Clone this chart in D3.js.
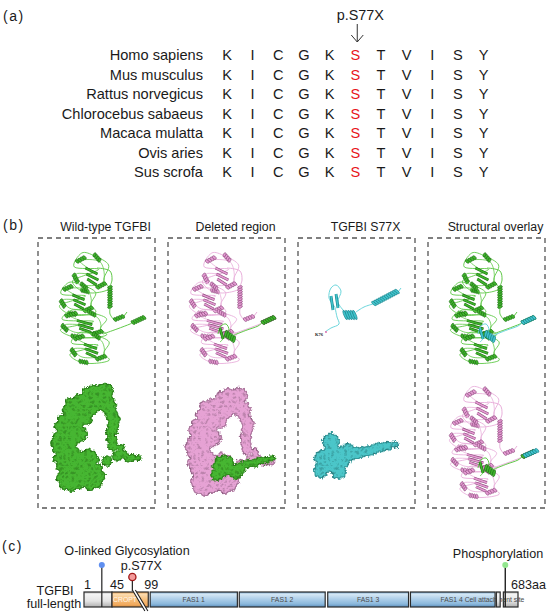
<!DOCTYPE html>
<html>
<head>
<meta charset="utf-8">
<script src="https://cdn.jsdelivr.net/npm/d3@7"></script>
<style>
body{margin:0;background:#fff}
svg{display:block;font-family:"Liberation Sans",Arial,sans-serif}
</style>
</head>
<body>
<svg id="fig" width="550" height="616"></svg>
<script>
// ---- panel (a) data
var species = ["Homo sapiens","Mus musculus","Rattus norvegicus","Chlorocebus sabaeus","Macaca mulatta","Ovis aries","Sus scrofa"];
var residues = ["K","I","C","G","K","S","T","V","I","S","Y"];
var mutIndex = 5;
var mutLabel = "p.S77X";

// ---- panel (b) titles
var panelTitles = ["Wild-type TGFBI","Deleted region","TGFBI S77X","Structural overlay"];

// ---- panel (c) data (amino-acid positions)
var domainNames = ["","CROPT","FAS1 1","FAS1 2","FAS1 3","FAS1 4 Cell attachment site","",""];
var domainStart = [1,45,105,245,384,514,649,660];
var domainEnd   = [45,102,242,380,511,647,655,683];
var domainKind  = ["gray","orange","blue","blue","blue","blue","gray","gray"];
var posTicks = [1,45,99];
var protLength = 683;
var siteNames = ["O-linked Glycosylation","p.S77X","Phosphorylation"];
var sitePos = [29,77,663];

var svg = d3.select("#fig");
var ink = "#1a1a1a";
var defs = svg.append("defs");

// ================= (a) alignment
var colX = d3.scalePoint().domain(d3.range(residues.length)).range([227, 483.5]);
var rowY = d3.scalePoint().domain(species).range([55, 172]);

svg.append("text").attr("x",3).attr("y",21).attr("font-size",14).attr("letter-spacing",1.5).attr("fill",ink).text("(a)");

svg.append("g").selectAll("text").data(species).enter().append("text")
  .attr("x",203).attr("y",function(d){return rowY(d)+5;})
  .attr("text-anchor","end").attr("font-size",14.6).attr("fill",ink)
  .text(function(d){return d;});

species.forEach(function(sp){
  svg.append("g").selectAll("text").data(residues).enter().append("text")
    .attr("x",function(d,i){return colX(i);})
    .attr("y",rowY(sp)+5)
    .attr("text-anchor","middle").attr("font-size",14.6)
    .attr("fill",function(d,i){return i==mutIndex ? "#e8141b" : ink;})
    .text(function(d){return d;});
});

var ax = colX(mutIndex)+2;
svg.append("text").attr("x",ax+3).attr("y",20).attr("text-anchor","middle")
  .attr("font-size",14.4).attr("fill",ink).text(mutLabel);
svg.append("path").attr("d","M"+ax+",24V42M"+(ax-6)+",35L"+ax+",42L"+(ax+6)+",35")
  .attr("fill","none").attr("stroke","#333").attr("stroke-width",1);

// ================= (b) structures
svg.append("text").attr("x",3).attr("y",230).attr("font-size",14).attr("letter-spacing",1.5).attr("fill",ink).text("(b)");

var boxX = d3.scaleBand().domain(panelTitles).range([38,545]).paddingInner(0.1);
var boxTop = 238, boxBottom = 508;

svg.append("g").selectAll("text").data(panelTitles).enter().append("text")
  .attr("x",function(d){return boxX(d)+boxX.bandwidth()/2+9;})
  .attr("y",230.5).attr("text-anchor","middle").attr("font-size",12.3).attr("fill",ink)
  .text(function(d){return d;});

svg.append("g").selectAll("rect").data(panelTitles).enter().append("rect")
  .attr("x",function(d){return boxX(d);}).attr("y",boxTop)
  .attr("width",boxX.bandwidth()).attr("height",boxBottom-boxTop)
  .attr("fill","none").attr("stroke","#555").attr("stroke-width",1.3)
  .attr("stroke-dasharray","5,4");

var green = {fill:"#3fb52c", dark:"#1d6e12", light:"#5fc947", surf:"#46b632"};
var pink  = {fill:"#e49bd2", dark:"#8e4a7e", light:"#e9afdb", surf:"#e6a2d4"};
var cyan  = {fill:"#40c4cc", dark:"#17808a", light:"#6bd6dc", surf:"#4cc6c9"};

var cartoonDomains = [[53,35,37,40],[40,61,37,33],[46,86,47,28],[52,110,40,31]];
var cartoonHelices = [[72,48,72,70,5],[76,82,86,78,4.5],[94,85,107,79,5]];
var cartoonLoops = [[[59,30],[72,33],[74,42],[72,48]],[[72,70],[72,76],[76,82]],[[86,78],[89,74]],[[65,96],[79,91],[92,86],[94,85]]];
// S77X part inside the template
var s77xLoops = [[[50,96],[53,88],[58,86],[61,92],[56,100],[52,104]],[[66,97],[79,92],[90,88],[94,85]]];
var s77xHelices = [[57,95,67,102,7],[94,85,107,79,5]];
// truncated protein cartoon (panel 3)
var truncLoops = [[[37,69],[31,60],[33,50],[38,47],[43,53],[40,64],[46,73]],[[37,69],[39,79],[41,86],[33,90],[27,94]],[[58,74],[66,69],[75,66]],[[100,54],[103,50]]];
var truncHelices = [[46,77,58,77,10],[75,66,100,53,6]];
var truncSheets = [[33,58,35,72],[38,56,40,70]];

// domain sub-pattern (unit coordinates)
var domLoop = [[-0.9,-0.3],[-0.5,-1],[0.2,-0.85],[0.95,-0.4],[0.7,0.3],[0.95,0.8],[0.1,1],[-0.6,0.85],[-1,0.4],[-0.3,0.1],[0.4,-0.2]];
var domLoop2 = [[-0.6,-0.6],[0.5,-0.55],[0.65,0.45],[-0.35,0.6],[-0.8,0.05],[0.1,0]];
var domHelix = [[-0.8,-0.55,-0.3,-0.8],[0.15,-0.95,0.5,-0.6],[-0.95,0.05,-0.7,0.5],[0.3,0.75,0.8,0.5],[-0.55,0.85,-0.1,0.95]];
var domSheet = [[-0.3,-0.25,0.35,0.05],[-0.25,0.05,0.4,0.35],[-0.2,0.3,0.3,0.6]];

var smoothLine = d3.line().curve(d3.curveCatmullRom.alpha(0.5));
var closedLine = d3.line().curve(d3.curveCardinalClosed);

function helix(g,x0,y0,x1,y1,w,pal){
  var L = Math.hypot(x1-x0,y1-y0), ang = Math.atan2(y1-y0,x1-x0)*180/Math.PI;
  var n = Math.max(2,Math.round(L/2.4)), step = L/n;
  var h = g.append("g").attr("transform","translate("+x0+","+y0+")rotate("+ang+")");
  h.selectAll("ellipse").data(d3.range(n)).enter().append("ellipse")
    .attr("cx",function(i){return (i+0.5)*step;}).attr("cy",0)
    .attr("rx",step*0.55).attr("ry",w/2)
    .attr("transform",function(i){return "rotate(-22,"+((i+0.5)*step)+",0)";})
    .attr("fill",pal.fill).attr("stroke",pal.dark).attr("stroke-width",0.6);
}
function strand(g,x0,y0,x1,y1,pal){
  g.append("line").attr("x1",x0).attr("y1",y0).attr("x2",x1).attr("y2",y1)
    .attr("stroke",pal.dark).attr("stroke-width",2.8);
  g.append("line").attr("x1",x0).attr("y1",y0).attr("x2",x1).attr("y2",y1)
    .attr("stroke",pal.fill).attr("stroke-width",1.6);
}
function drawLoops(g,list,pal){
  list.forEach(function(pts){
    g.append("path").attr("d",smoothLine(pts)).attr("fill","none")
      .attr("stroke",pal.light).attr("stroke-width",1);
  });
}
function drawDomains(g,doms,pal){
  doms.forEach(function(d){
    var sx = d[2]/2, sy = d[3]/2;
    var P = function(p){return [d[0]+p[0]*sx, d[1]+p[1]*sy];};
    g.append("path").attr("d",closedLine(domLoop.map(P))).attr("fill","none").attr("stroke",pal.light).attr("stroke-width",0.9);
    g.append("path").attr("d",closedLine(domLoop2.map(P))).attr("fill","none").attr("stroke",pal.light).attr("stroke-width",0.8);
    domSheet.forEach(function(s){var a=P([s[0],s[1]]),b=P([s[2],s[3]]);strand(g,a[0],a[1],b[0],b[1],pal);});
    domHelix.forEach(function(s){var a=P([s[0],s[1]]),b=P([s[2],s[3]]);helix(g,a[0],a[1],b[0],b[1],4.6,pal);});
  });
}
function drawCartoon(g,pal){
  drawDomains(g,cartoonDomains,pal);
  drawLoops(g,cartoonLoops,pal);
  cartoonHelices.forEach(function(h){helix(g,h[0],h[1],h[2],h[3],h[4],pal);});
}
function drawS77X(g,pal){
  drawLoops(g,s77xLoops,pal);
  strand(g,52,90,55,101,pal);
  s77xHelices.forEach(function(h){helix(g,h[0],h[1],h[2],h[3],h[4],pal);});
}

// surfaces (box-relative circles)
var surfaceBlobs = [[55,160,13],[40,172,15],[29,187,12],[66,153,8],[69,166,8],[72,174,6],[75,180,6],[74,187,5.5],[73,194,5.5],[73,201,5],[74,207,5],
  [25,204,12],[29,220,13],[49,221,10],[32,239,13],[52,237,13],[40,195,8],
  [68,222,5],[78,217,5],[82,209,3.5],[84,215,4],[89,219,4],[94,219,3.5],[99,219,3]];
var deletedPatch = [[55,227,10],[67,233,7],[48,236,6],[73,228,5],[79,225,4.5],[86,224,4],[92,222,4],[98,221,3.5],[104,219,3]];
var truncSurface = [[32,203,8],[24,220,8],[30,221,11],[42,219,10],[22,232,7],[40,233,7],[49,211,6],
  [54,215,5.5],[59,214,5.5],[64,213,5],[69,212,5],[74,211,5],[79,209,5],[84,208,4.5],[89,207,4.5],[96,206,3.5]];
var bumpAngles = [0,45,90,135,180,225,270,315];

// molecular-surface look: rough edge, crevices and outline
var sf = defs.append("filter").attr("id","surf").attr("x","-10%").attr("y","-10%").attr("width","120%").attr("height","120%");
sf.append("feTurbulence").attr("type","turbulence").attr("baseFrequency",0.24).attr("numOctaves",2).attr("seed",5).attr("result","noise");
sf.append("feDisplacementMap").attr("in","SourceGraphic").attr("in2","noise").attr("scale",3.5)
  .attr("xChannelSelector","R").attr("yChannelSelector","G").attr("result","shape");
sf.append("feColorMatrix").attr("in","noise").attr("type","matrix")
  .attr("values","0 0 0 0 0  0 0 0 0 0  0 0 0 0 0  3.2 0 0 0 -0.75").attr("result","mask");
sf.append("feFlood").attr("flood-color","#000").attr("flood-opacity",0.36);
sf.append("feComposite").attr("in2","mask").attr("operator","in").attr("result","spots");
sf.append("feComposite").attr("in","spots").attr("in2","shape").attr("operator","in").attr("result","spots2");
sf.append("feMorphology").attr("in","shape").attr("operator","erode").attr("radius",0.7).attr("result","inner");
sf.append("feComposite").attr("in","shape").attr("in2","inner").attr("operator","out").attr("result","edge0");
sf.append("feFlood").attr("flood-color","#000").attr("flood-opacity",0.45);
sf.append("feComposite").attr("in2","edge0").attr("operator","in").attr("result","edge");
var mg = sf.append("feMerge");
["shape","spots2","edge"].forEach(function(n){mg.append("feMergeNode").attr("in",n);});

function drawSurface(g,blobs,pal){
  var parts = [];
  blobs.forEach(function(b){
    parts.push(b);
    bumpAngles.forEach(function(a){
      var t = a*Math.PI/180;
      parts.push([b[0]+Math.cos(t)*b[2]*0.8, b[1]+Math.sin(t)*b[2]*0.8, b[2]*0.35]);
    });
  });
  g.append("g").attr("filter","url(#surf)").selectAll("circle").data(parts).enter().append("circle")
    .attr("cx",function(d){return d[0];}).attr("cy",function(d){return d[1];})
    .attr("r",function(d){return d[2];}).attr("fill",pal.surf);
}

function boxG(i,dy){
  return svg.append("g").attr("transform","translate("+boxX(panelTitles[i])+","+(boxTop+(dy||0))+")");
}

// panel 1: wild type
drawCartoon(boxG(0),green);
drawSurface(boxG(0),surfaceBlobs,green);

// panel 2: deleted region
var g2 = boxG(1);
drawCartoon(g2,pink);
drawS77X(g2,green);
var g2s = boxG(1);
drawSurface(g2s,surfaceBlobs.map(function(b){return [b[0]+4,b[1]+4,b[2]];}),pink);
drawSurface(g2s,deletedPatch,green);

// panel 3: truncated
var g3 = boxG(2);
drawLoops(g3,truncLoops,cyan);
truncSheets.forEach(function(s){strand(g3,s[0],s[1],s[2],s[3],cyan);});
truncHelices.forEach(function(h){helix(g3,h[0],h[1],h[2],h[3],h[4],cyan);});
g3.append("circle").attr("cx",28).attr("cy",94).attr("r",1).attr("fill","#e070b0");
g3.append("text").attr("x",17).attr("y",98).attr("font-size",4.5).attr("font-weight","bold")
  .attr("font-family","Liberation Serif, serif").attr("fill","#222").text("K76");
drawSurface(boxG(2),truncSurface,cyan);

// panel 4: overlays
var g4 = boxG(3);
drawCartoon(g4,green);
drawS77X(g4,cyan);
var g4b = boxG(3,134);
drawCartoon(g4b,pink);
drawS77X(g4b,green);
helix(g4b,96,84,110,78,5,cyan);

// ================= (c) domain map
svg.append("text").attr("x",2).attr("y",551).attr("font-size",14).attr("letter-spacing",1.5).attr("fill",ink).text("(c)");

var aa = d3.scaleLinear().domain([1,protLength]).range([84,518]);
var barY = 592, barH = 15;

var grads = {
  blue:[[0,"#6d9dc8"],[0.14,"#d6e8f5"],[0.45,"#b0d0ea"],[0.8,"#8ab8dc"],[1,"#5b8cba"]],
  orange:[[0,"#e0984a"],[0.15,"#fcdcb0"],[0.5,"#f7bf7c"],[0.85,"#f1a95c"],[1,"#d48a3e"]],
  gray:[[0,"#b8b8b8"],[0.15,"#f4f4f4"],[0.6,"#e4e4e4"],[1,"#b0b0b0"]]
};
Object.keys(grads).forEach(function(k){
  var lg = defs.append("linearGradient").attr("id","g-"+k).attr("x1",0).attr("x2",0).attr("y1",0).attr("y2",1);
  grads[k].forEach(function(s){lg.append("stop").attr("offset",s[0]).attr("stop-color",s[1]);});
});

var segIdx = d3.range(domainStart.length);
function seg(sel){
  sel.append("rect")
    .attr("x",function(i){return aa(domainStart[i]);}).attr("y",barY)
    .attr("width",function(i){return aa(domainEnd[i])-aa(domainStart[i]);}).attr("height",barH)
    .attr("fill",function(i){return "url(#g-"+domainKind[i]+")";})
    .attr("stroke","#2b2b2b").attr("stroke-width",1.2);
}
svg.append("g").selectAll("rect").data(segIdx.filter(function(i){return i!=6;})).enter().call(seg);

svg.append("g").selectAll("text").data(segIdx.filter(function(i){return domainNames[i];})).enter().append("text")
  .attr("x",function(i){
    if (i==5) return aa(domainStart[i])+30;
    if (i==1) return aa(domainStart[i])+13;
    return (aa(domainStart[i])+aa(domainEnd[i]))/2;})
  .attr("y",barY+10.3)
  .attr("text-anchor",function(i){return i==5 ? "start" : "middle";})
  .attr("font-size",6.8)
  .attr("fill",function(i){return domainKind[i]=="orange" ? "#fff7ea" : "#4a4a4a";})
  .text(function(i){return domainNames[i];});

svg.append("g").selectAll("rect").data([6]).enter().call(seg);

// position ticks
svg.append("g").selectAll("text").data(posTicks).enter().append("text")
  .attr("x",function(d){return aa(d)+(d==1?0:-2);}).attr("y",588.5)
  .attr("font-size",12.6).attr("fill",ink).text(function(d){return d;});
svg.append("text").attr("x",aa(protLength)-7).attr("y",588.5).attr("font-size",12.6).attr("fill",ink).text(protLength+"aa");

svg.append("text").attr("x",55).attr("y",594.5).attr("text-anchor","middle").attr("font-size",12.6).attr("fill",ink).text("TGFBI");
svg.append("text").attr("x",54).attr("y",607.5).attr("text-anchor","middle").attr("font-size",12.6).attr("fill",ink).text("full-length");

// sites
var gx = aa(sitePos[0]), mx = aa(sitePos[1]), px = aa(sitePos[2]);
svg.append("line").attr("x1",gx).attr("x2",gx).attr("y1",565).attr("y2",barY+barH).attr("stroke","#222").attr("stroke-width",1.2);
svg.append("line").attr("x1",px).attr("x2",px).attr("y1",565).attr("y2",barY+barH).attr("stroke","#222").attr("stroke-width",1.4);
svg.append("line").attr("x1",mx).attr("x2",mx).attr("y1",577).attr("y2",591).attr("stroke","#222").attr("stroke-width",1.2);
svg.append("path").attr("d","M"+(mx)+",590L"+(mx+3)+",590L"+(mx+15.5)+",611L"+(mx+12.5)+",611Z")
  .attr("fill","#fff").attr("stroke","none");
svg.append("path").attr("d","M"+mx+",590L"+(mx+12.5)+",611M"+(mx+3)+",590L"+(mx+15.5)+",611")
  .attr("stroke","#222").attr("stroke-width",1.1);

svg.append("circle").attr("cx",gx).attr("cy",565).attr("r",3).attr("fill","#5f8ff0");
svg.append("circle").attr("cx",px).attr("cy",565).attr("r",3).attr("fill","#92e68e");
svg.append("circle").attr("cx",mx).attr("cy",577).attr("r",3.6).attr("fill","#f49a9a").attr("stroke","#a01818").attr("stroke-width",1.3);

svg.append("text").attr("x",127).attr("y",554.5).attr("text-anchor","middle").attr("font-size",12.6).attr("fill",ink).text(siteNames[0]);
svg.append("text").attr("x",mx+9).attr("y",569.5).attr("text-anchor","middle").attr("font-size",12.6).attr("fill",ink).text(siteNames[1]);
svg.append("text").attr("x",498).attr("y",557.5).attr("text-anchor","middle").attr("font-size",12.6).attr("fill",ink).text(siteNames[2]);
</script>
</body>
</html>
